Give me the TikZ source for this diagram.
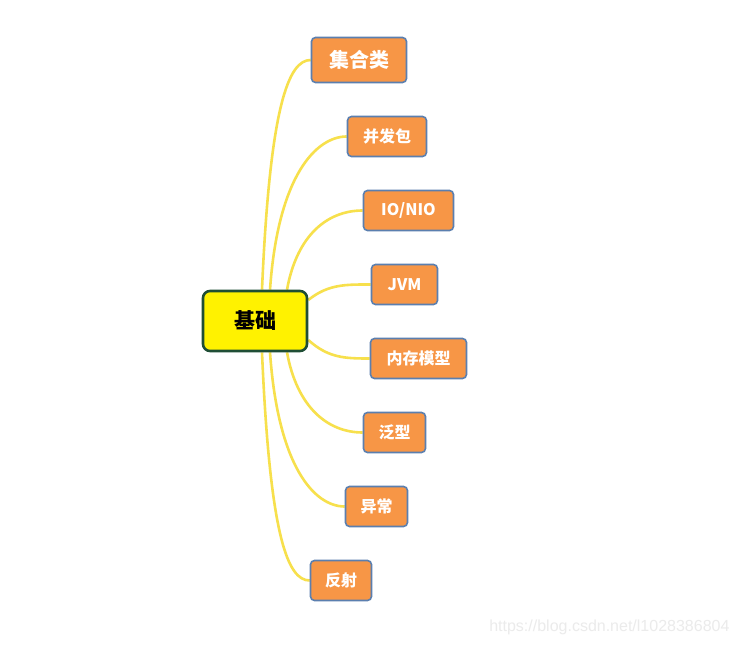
\documentclass[tikz,border=0pt]{standalone}
\usepackage{fontspec}
\newfontfamily\cjk{Noto Sans CJK SC}
\newfontfamily\wm{Liberation Sans}
\usetikzlibrary{backgrounds}
\definecolor{leaf}{HTML}{F79646}
\definecolor{leafline}{HTML}{5B7FAF}
\definecolor{link}{HTML}{F7E04C}
\definecolor{rootline}{HTML}{1F4E35}
\tikzset{
  root/.style={draw=rootline, line width=2.6pt, fill=yellow, rounded corners=7pt,
    minimum width=104pt, minimum height=60pt, inner sep=0pt,
    font=\cjk\bfseries\fontsize{21}{21}\selectfont, text=black},
  leafbox/.style={draw=leafline, line width=1.6pt, fill=leaf, rounded corners=4pt,
    minimum height=40pt, inner sep=0pt,
    font=\cjk\bfseries\fontsize{16}{16}\selectfont, text=white},
  linkline/.style={draw=link, line width=2.6pt}
}
\begin{document}
\begin{tikzpicture}[x=1pt,y=-1pt]
\useasboundingbox (0,0) rectangle (740,645);
\node[root] (c) at (255,321) {基础};
\node[leafbox, minimum width=95pt, minimum height=45pt, font=\cjk\bfseries\fontsize{20}{20}\selectfont] (n1) at (359,60) {集合类};
\node[leafbox, minimum width=79pt] (n2) at (387,136.5) {并发包};
\node[leafbox, minimum width=90pt] (n3) at (408.5,210.5) {IO/NIO};
\node[leafbox, minimum width=66pt] (n4) at (404.5,284.5) {JVM};
\node[leafbox, minimum width=96pt] (n5) at (418.5,358.5) {内存模型};
\node[leafbox, minimum width=62pt] (n6) at (394.5,432.5) {泛型};
\node[leafbox, minimum width=62pt] (n7) at (376.5,506.5) {异常};
\node[leafbox, minimum width=61pt] (n8) at (341,580.5) {反射};
\node[font=\wm\fontsize{16}{16}\selectfont, text=black!8, anchor=east] (wm) at (733,627) {https://blog.csdn.net/l1028386804};
\begin{scope}[on background layer]
\fill[white] (0,0) rectangle (740,645);
\draw[linkline] ([xshift=7pt]c.north) .. controls +(8,-185) and +(-22,0) .. (n1.west);
\draw[linkline] ([xshift=15pt]c.north) .. controls +(8,-115) and +(-30,0) .. (n2.west);
\draw[linkline] ([xshift=32pt]c.north) .. controls +(10,-55) and +(-35,0) .. (n3.west);
\draw[linkline] ([yshift=21pt]c.east) .. controls +(20,-16) and +(-25,0) .. (n4.west);
\draw[linkline] ([yshift=-19pt]c.east) .. controls +(20,18) and +(-25,0) .. (n5.west);
\draw[linkline] ([xshift=32pt]c.south) .. controls +(10,55) and +(-35,0) .. (n6.west);
\draw[linkline] ([xshift=15pt]c.south) .. controls +(8,115) and +(-30,0) .. (n7.west);
\draw[linkline] ([xshift=7pt]c.south) .. controls +(8,185) and +(-22,0) .. (n8.west);
\end{scope}
\end{tikzpicture}
\end{document}
